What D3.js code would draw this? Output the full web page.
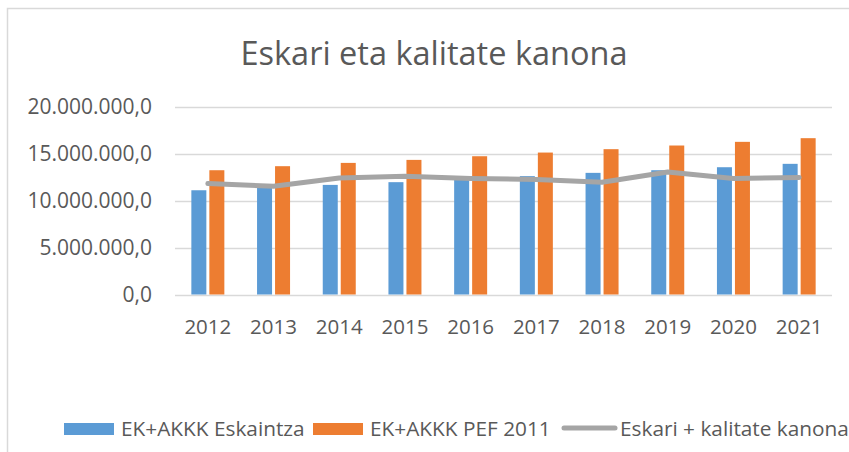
<!DOCTYPE html>
<html>
<head>
<meta charset="utf-8">
<script src="https://cdn.jsdelivr.net/npm/d3@7"></script>
<style>
  body { margin: 0; background: #fff; }
  svg text { font-family: "Open Sans", sans-serif; fill: #595959; }
</style>
</head>
<body>
<svg id="chart" width="849" height="452"></svg>
<script>
// data
const years = ["2012", "2013", "2014", "2015", "2016", "2017", "2018", "2019", "2020", "2021"];
const eskaintza = [11090000, 11420000, 11660000, 11950000, 12300000, 12590000, 12940000, 13220000, 13540000, 13900000];
const pef2011 = [13220000, 13650000, 14000000, 14320000, 14710000, 15100000, 15460000, 15850000, 16240000, 16630000];
const kanona = [11800000, 11520000, 12400000, 12590000, 12340000, 12230000, 11950000, 13040000, 12340000, 12450000];
const yTicks = [0, 5000000, 10000000, 15000000, 20000000];
const seriesNames = ["EK+AKKK Eskaintza", "EK+AKKK PEF 2011", "Eskari + kalitate kanona"];
const colors = ["#5B9BD5", "#ED7D31", "#A5A5A5"];

const svg = d3.select("#chart");

// outer chart frame
svg.append("path")
    .attr("d", "M7.5,460 V8.5 H860")
    .attr("fill", "none")
    .attr("stroke", "#D9D9D9")
    .attr("stroke-width", 1.5);

svg.append("text")
    .attr("x", 434)
    .attr("y", 65)
    .attr("text-anchor", "middle")
    .attr("font-size", "32.5px")
    .text("Eskari eta kalitate kanona");

const x = d3.scaleBand()
    .domain(years)
    .range([175, 832]);

const x1 = d3.scaleBand()
    .domain([0, 1])
    .range([-16.5, 16.5])
    .paddingInner(1 / 6);

const y = d3.scaleLinear()
    .domain([0, 20000000])
    .range([294.5, 106.5]);

const locale = d3.formatLocale({ decimal: ",", thousands: ".", grouping: [3], currency: ["", ""] });
const fmt = locale.format(",.1f");

// gridlines
svg.append("g")
    .selectAll("line")
    .data(yTicks)
    .join("line")
    .attr("x1", 175)
    .attr("x2", 832)
    .attr("y1", d => Math.round(y(d)) + 0.5)
    .attr("y2", d => Math.round(y(d)) + 0.5)
    .attr("stroke", "#D9D9D9")
    .attr("stroke-width", 1.5);

// y labels
svg.append("g")
    .selectAll("text")
    .data(yTicks)
    .join("text")
    .attr("x", 152)
    .attr("y", d => y(d))
    .attr("dy", "0.36em")
    .attr("text-anchor", "end")
    .attr("font-size", "21px")
    .text(d => fmt(d));

// x labels
svg.append("g")
    .selectAll("text")
    .data(years)
    .join("text")
    .attr("x", d => x(d) + x.bandwidth() / 2)
    .attr("y", 334)
    .attr("text-anchor", "middle")
    .attr("font-size", "20.5px")
    .text(d => d);

// bars
[eskaintza, pef2011].forEach(function (vals, s) {
  svg.append("g")
      .attr("fill", colors[s])
      .selectAll("rect")
      .data(vals)
      .join("rect")
      .attr("x", (d, i) => x(years[i]) + x.bandwidth() / 2 + x1(s))
      .attr("width", x1.bandwidth())
      .attr("y", d => y(d))
      .attr("height", d => y(0) - y(d));
});

// line series
const line = d3.line()
    .x((d, i) => x(years[i]) + x.bandwidth() / 2)
    .y(d => y(d));

svg.append("path")
    .datum(kanona)
    .attr("d", line)
    .attr("fill", "none")
    .attr("stroke", colors[2])
    .attr("stroke-width", 5)
    .attr("stroke-linecap", "round")
    .attr("stroke-linejoin", "round");

// legend
const legend = svg.append("g").attr("font-size", "20.8px");
const legendX = [64, 313, 562];

legend.selectAll("rect")
    .data([0, 1])
    .join("rect")
    .attr("x", d => legendX[d])
    .attr("y", 423)
    .attr("width", 50)
    .attr("height", 12)
    .attr("fill", d => colors[d]);

legend.append("line")
    .attr("x1", legendX[2] + 2)
    .attr("x2", legendX[2] + 53)
    .attr("y1", 428)
    .attr("y2", 428)
    .attr("stroke", colors[2])
    .attr("stroke-width", 5)
    .attr("stroke-linecap", "round");

legend.selectAll("text")
    .data(seriesNames)
    .join("text")
    .attr("x", (d, i) => legendX[i] + (i === 2 ? 58 : 57))
    .attr("y", 436)
    .text(d => d);
</script>
</body>
</html>
